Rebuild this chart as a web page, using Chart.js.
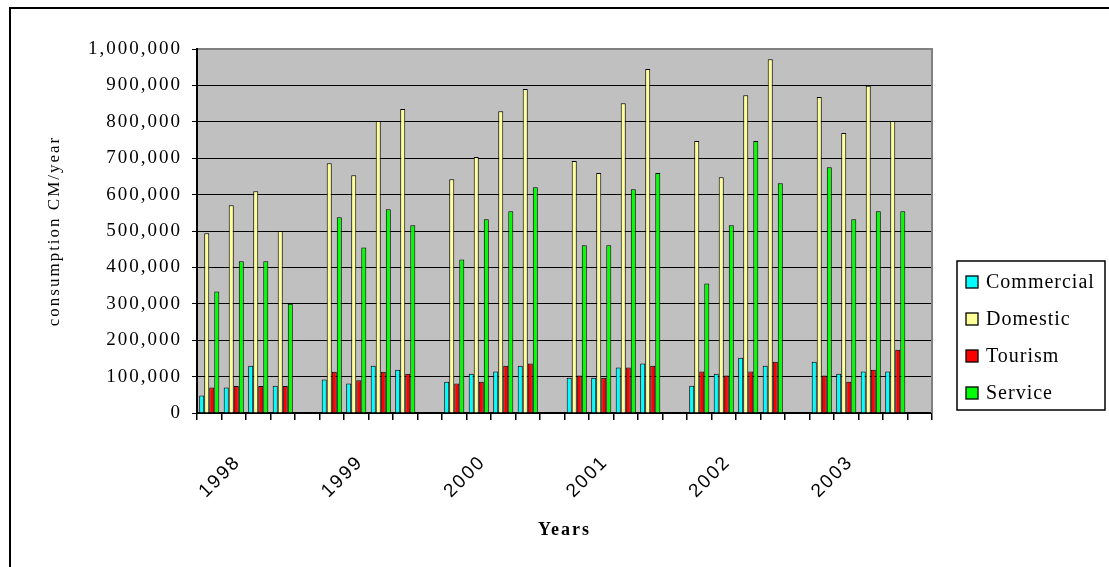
<!DOCTYPE html>
<html>
<head>
<meta charset="utf-8">
<script src="https://cdn.jsdelivr.net/npm/chart.js@4"></script>
<style>
html,body{margin:0;padding:0;background:#fff;}
canvas{display:block;}
</style>
</head>
<body>
<canvas id="c" width="1109" height="567"></canvas>
<script>
// ---- data ----
const years = ['1998', '1999', '2000', '2001', '2002', '2003'];
const seriesNames = ['Commercial', 'Domestic', 'Tourism', 'Service'];
const seriesColors = ['#00FFFF', '#FFFF99', '#FF0000', '#00FF00'];
// quarterly values (4 per year), consumption CM/year
const commercial = [48000, 70000, 130000, 75000, 92000, 81000, 130000, 119000, 86000, 108000, 114000, 130000,
                    97000, 97000, 125000, 136000, 75000, 108000, 152000, 130000, 141000, 108000, 114000, 114000];
const domestic   = [494000, 571000, 609000, 500000, 686000, 653000, 802000, 835000, 642000, 703000, 829000, 890000,
                    692000, 659000, 851000, 945000, 747000, 648000, 873000, 972000, 868000, 769000, 899000, 802000];
const tourism    = [70000, 74000, 74000, 74000, 113000, 90000, 113000, 108000, 81000, 86000, 130000, 136000,
                    103000, 97000, 125000, 130000, 114000, 103000, 114000, 141000, 103000, 86000, 119000, 174000];
const service    = [334000, 417000, 417000, 300000, 538000, 455000, 560000, 516000, 422000, 532000, 554000, 620000,
                    461000, 461000, 615000, 659000, 356000, 516000, 747000, 631000, 675000, 532000, 554000, 554000];
const yMax = 1000000;
const yStep = 100000;

// ---- build slots: 4 quarters + one empty slot per year ----
const categories = [];
years.forEach(y => { categories.push('', y, '', '', ''); });
function toSlots(arr) {
  const out = [];
  years.forEach((y, i) => { out.push(...arr.slice(i * 4, i * 4 + 4), null); });
  return out;
}
const seriesValues = [commercial, domestic, tourism, service];

const spacing = '2px';
const spacingPlugin = {
  id: 'spacing',
  beforeUpdate(c) { c.ctx.letterSpacing = spacing; },
  beforeLayout(c) { c.ctx.letterSpacing = spacing; },
  beforeDraw(c) { c.ctx.letterSpacing = spacing; }
};

const decorPlugin = {
  id: 'decor',
  beforeDraw(c) {
    const {ctx, chartArea: a} = c;
    ctx.save();
    ctx.fillStyle = '#FFFFFF';
    ctx.fillRect(0, 0, c.width, c.height);
    ctx.fillStyle = '#C0C0C0';
    ctx.fillRect(a.left, a.top, a.right - a.left, a.bottom - a.top);
    ctx.restore();
  },
  afterDraw(c) {
    const {ctx, chartArea: a} = c;
    ctx.save();
    // plot area border (top/right grey)
    ctx.strokeStyle = '#808080';
    ctx.lineWidth = 2;
    ctx.beginPath();
    ctx.moveTo(a.left + 1, a.top);
    ctx.lineTo(a.right, a.top);
    ctx.lineTo(a.right, a.bottom);
    ctx.stroke();
    // outer chart border
    ctx.strokeStyle = '#000';
    ctx.lineWidth = 2;
    ctx.strokeRect(10, 8, 1110, 620);
    // legend
    const lx = 957, ly = 261, lw = 148, lh = 149;
    ctx.lineWidth = 1.5;
    ctx.strokeRect(lx, ly, lw, lh);
    ctx.letterSpacing = '1px';
    ctx.font = '20px "Liberation Serif"';
    ctx.textBaseline = 'middle';
    ctx.textAlign = 'left';
    c.data.datasets.forEach((ds, i) => {
      const cy = 282 + i * 37;
      ctx.fillStyle = ds.backgroundColor;
      ctx.fillRect(966, cy - 6, 12, 12);
      ctx.strokeStyle = '#000';
      ctx.lineWidth = 1.3;
      ctx.strokeRect(966, cy - 6, 12, 12);
      ctx.fillStyle = '#000';
      ctx.fillText(ds.label, 986, cy + 1);
    });
    ctx.restore();
  }
};

new Chart(document.getElementById('c'), {
  type: 'bar',
  data: {
    labels: categories,
    datasets: seriesNames.map((name, i) => ({
      label: name,
      data: toSlots(seriesValues[i]),
      backgroundColor: seriesColors[i],
      borderColor: '#000000',
      borderWidth: 1,
      borderSkipped: 'bottom',
      categoryPercentage: 0.82,
      barPercentage: 1.0
    }))
  },
  options: {
    responsive: false,
    devicePixelRatio: 1,
    animation: false,
    layout: { padding: { left: 0, right: 177, top: 49, bottom: 0 } },
    plugins: { legend: { display: false }, tooltip: { enabled: false } },
    scales: {
      x: {
        grid: { display: true, drawOnChartArea: false, drawTicks: true, tickLength: 7, color: '#000', lineWidth: 1.5, offset: true },
        border: { display: true, color: '#000', width: 2 },
        ticks: {
          autoSkip: false, minRotation: 45, maxRotation: 45, padding: 31, labelOffset: 4,
          color: '#000', font: { family: '"Liberation Sans"', size: 19 }
        },
        title: {
          display: true, text: 'Years', color: '#000',
          font: { family: '"Liberation Serif"', size: 18, weight: 'bold' },
          padding: { top: 0, bottom: 26 }
        },
        afterFit(s) { s.height = 154; }
      },
      y: {
        min: 0, max: yMax,
        grid: { color: '#000', lineWidth: 1, drawTicks: true, tickLength: 5 },
        border: { display: true, color: '#000', width: 2 },
        ticks: {
          stepSize: yStep, padding: 10, color: '#000',
          font: { family: '"Liberation Serif"', size: 19 },
          callback: v => Number(v).toLocaleString('en-US')
        },
        title: {
          display: true, text: 'consumption CM/year', color: '#000',
          font: { family: '"Liberation Serif"', size: 17 },
          padding: { top: 44, bottom: 0 }
        },
        afterFit(s) { s.width = 197; }
      }
    }
  },
  plugins: [spacingPlugin, decorPlugin]
});
</script>
</body>
</html>
